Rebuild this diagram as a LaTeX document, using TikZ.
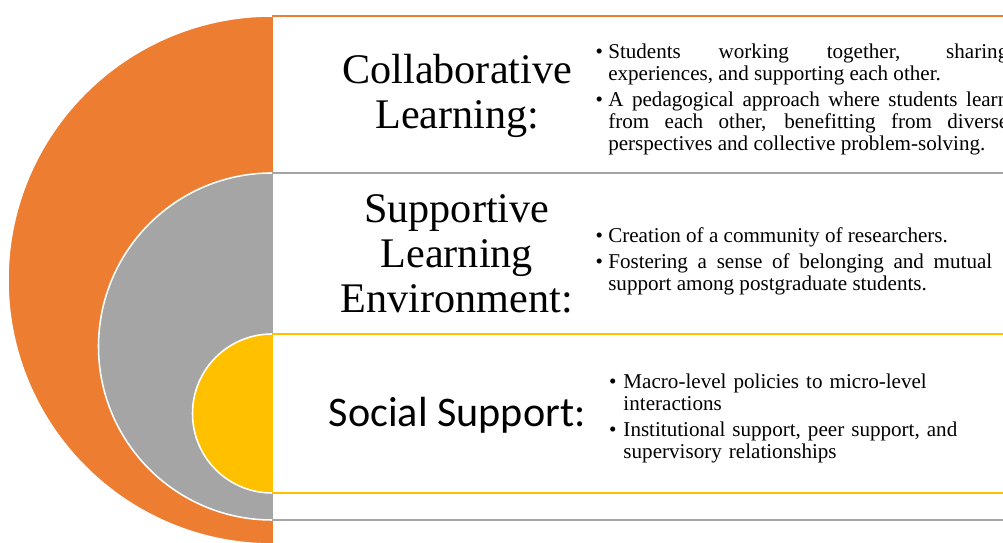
\documentclass[tikz,border=0pt]{standalone}
\usepackage{fontspec}
\setmainfont{Liberation Serif}
\newfontfamily\calibri{Carlito}
\usetikzlibrary{positioning}
\definecolor{corange}{HTML}{ED7D31}
\definecolor{cgray}{HTML}{A5A5A5}
\definecolor{cyellow}{HTML}{FFC000}
\hyphenpenalty=10000
\tolerance=10000

\begin{document}
\begin{tikzpicture}[
  band/.style={draw=#1, fill=white, line width=1.4pt},
  rim/.style={draw=white, line width=1.1pt},
  head/.style={font=\fontsize{30}{32}\selectfont, align=center, inner sep=0pt},
  pts/.style={font=\fontsize{15}{15.5}\selectfont, align=justify, text width=#1, inner sep=0pt, anchor=north west}
]
\useasboundingbox (0,0) rectangle (25.075,13.575);
\clip (0,0) rectangle (25.075,13.575);
% nested half discs, each with its band to the right
\foreach \c/\yc/\r in {corange/6.575/6.6, cgray/4.9125/4.3375, cyellow/3.2375/1.9875} {
  \draw[band=\c] (6.8,{\yc-\r}) rectangle (26,{\yc+\r});
  \fill[\c] (6.8,{\yc+\r}) arc[start angle=90, end angle=270, radius=\r] -- cycle;
  \draw[rim] (6.8,{\yc+\r}) arc[start angle=90, end angle=270, radius=\r];
}
% headings
\node[head, anchor=north] (t1) at (11.43,12.22) {Collaborative\\Learning:};
\node[head, anchor=north] (t2) at (11.42,8.71) {Supportive\\Learning\\Environment:};
\node[head, font=\calibri\fontsize{30}{32}\selectfont, anchor=base] (t3) at (11.43,2.9) {Social Support:};
% bullet texts
\node[pts=10cm] (b1) at (15.2,12.48) {\noindent\llap{\textbullet\ }Students working together, sharing\linebreak experiences, and supporting each other.\par\vspace{3pt}
  \noindent\llap{\textbullet\ }A pedagogical approach where students learn\linebreak from each other, benefitting from diverse\linebreak perspectives and collective problem-solving.};
\node[pts=9.6cm] (b2) at (15.2,7.88) {\noindent\llap{\textbullet\ }Creation of a community of researchers.\par\vspace{3pt}
  \noindent\llap{\textbullet\ }Fostering a sense of belonging and mutual\linebreak support among postgraduate students.};
\node[pts=9cm, align=left] (b3) at (15.58,4.225) {\noindent\llap{\textbullet\ }Macro-level policies to micro-level\\interactions\par\vspace{3pt}
  \noindent\llap{\textbullet\ }Institutional support, peer support, and\\supervisory relationships};
\end{tikzpicture}
\end{document}
